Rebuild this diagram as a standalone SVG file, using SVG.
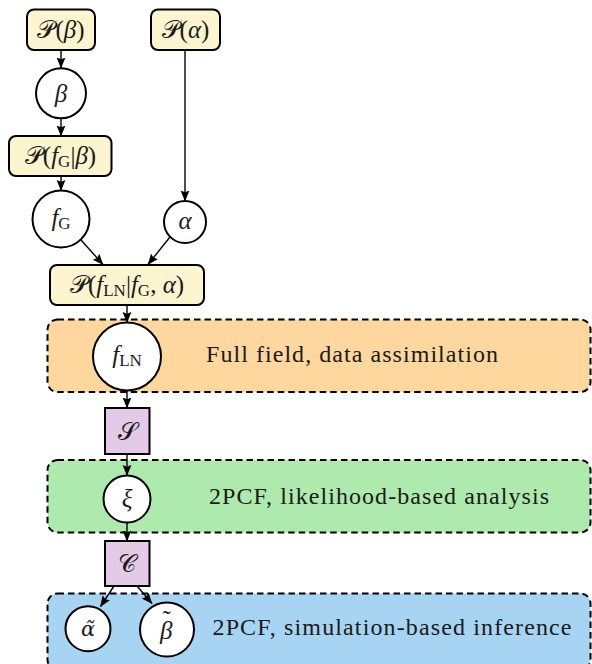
<svg xmlns="http://www.w3.org/2000/svg" width="592" height="664" viewBox="0 0 592 664">
<style>
.dist{fill:#fcf5cf;stroke:#000;stroke-width:2}
.var{fill:#fff;stroke:#000;stroke-width:2}
.op{fill:#e4cae6;stroke:#000;stroke-width:2}
.region{stroke:#000;stroke-width:2;stroke-dasharray:6.5 4}
.m{font-family:"Liberation Serif","DejaVu Serif",serif;font-size:25px;fill:#1a1a1a;text-anchor:middle}
.ms{font-family:"Liberation Serif","DejaVu Serif",serif;font-size:25px;fill:#1a1a1a}
.it{font-style:italic}
.sub{font-size:17px;font-style:normal}
.cal{font-family:"DejaVu Serif","DejaVu Sans","Liberation Serif",serif;font-style:normal;font-weight:normal}
.dv{font-family:"DejaVu Serif",serif;font-size:21px;font-style:italic}
.lab{font-family:"Liberation Serif",serif;font-size:24px;fill:#1a1a1a}
.c{stroke:#000;stroke-width:1.4;fill:none;marker-end:url(#ah)}
</style>
<defs>
<marker id="ah" markerUnits="userSpaceOnUse" markerWidth="11" markerHeight="11" viewBox="0 0 10 10" refX="9.5" refY="5" orient="auto">
<path d="M0,1 L10,5 L0,9 L1.5,5 Z" fill="#000"/>
</marker>
</defs>

<g id="region-full-field">
<rect class="region" x="47.5" y="319.5" width="543" height="72.5" rx="10" fill="#fed79e"/>
<text class="lab" x="206" y="362" textLength="292" lengthAdjust="spacing">Full field, data assimilation</text>
</g>
<g id="region-2pcf-likelihood">
<rect class="region" x="47.5" y="460" width="543" height="72.5" rx="10" fill="#aeeaae"/>
<text class="lab" x="209" y="503.5" textLength="340" lengthAdjust="spacing">2PCF, likelihood-based analysis</text>
</g>
<g id="region-2pcf-sbi">
<rect class="region" x="47.5" y="593.5" width="543" height="76" rx="10" fill="#a7d4f2"/>
<text class="lab" x="212.5" y="635" textLength="359" lengthAdjust="spacing">2PCF, simulation-based inference</text>
</g>

<g id="connectors">
<line class="c" x1="61" y1="50" x2="61" y2="68"/>
<line class="c" x1="61" y1="118" x2="61" y2="136"/>
<line class="c" x1="61" y1="176" x2="61" y2="190.5"/>
<line class="c" x1="185" y1="50" x2="185" y2="201"/>
<line class="c" x1="81" y1="240" x2="103" y2="264.5"/>
<line class="c" x1="170" y1="237" x2="148" y2="264.5"/>
<line class="c" x1="127" y1="305" x2="127" y2="322.5"/>
<line class="c" x1="127" y1="390.5" x2="127" y2="408"/>
<line class="c" x1="127" y1="454" x2="127" y2="475.5"/>
<line class="c" x1="127" y1="522.5" x2="127" y2="541"/>
<line class="c" x1="114" y1="586" x2="100.5" y2="606.5"/>
<line class="c" x1="137" y1="586" x2="152" y2="603.5"/>
</g>

<g id="P-beta">
<rect class="dist" x="27" y="9.5" width="68" height="40.5" rx="7"/>
<text class="m" x="61" y="37.5"><tspan class="cal">𝒫</tspan>(<tspan class="it">β</tspan>)</text>
</g>
<g id="P-alpha">
<rect class="dist" x="151" y="9.5" width="69" height="40.5" rx="7"/>
<text class="m" x="185.5" y="37.5"><tspan class="cal">𝒫</tspan>(<tspan class="it">α</tspan>)</text>
</g>
<g id="beta">
<circle class="var" cx="61" cy="93.3" r="25"/>
<text class="m it" x="61" y="101.5">β</text>
</g>
<g id="P-fG-beta">
<rect class="dist" x="9" y="136" width="102.5" height="40" rx="7"/>
<text class="m" x="60.5" y="163.5"><tspan class="cal">𝒫</tspan>(<tspan class="it">f</tspan><tspan class="sub" dy="3">G</tspan><tspan dy="-3">|</tspan><tspan class="it">β</tspan>)</text>
</g>
<g id="fG">
<circle class="var" cx="61" cy="219" r="28.5"/>
<text class="m" x="61" y="226"><tspan class="it">f</tspan><tspan class="sub" dy="3">G</tspan></text>
</g>
<g id="alpha">
<circle class="var" cx="185" cy="222" r="21"/>
<text class="m it" x="185" y="229">α</text>
</g>
<g id="P-fLN-fG-alpha">
<rect class="dist" x="50" y="265" width="154" height="40" rx="7"/>
<text class="m" x="127" y="292.5"><tspan class="cal">𝒫</tspan>(<tspan class="it">f</tspan><tspan class="sub" dy="3">LN</tspan><tspan dy="-3">|</tspan><tspan class="it">f</tspan><tspan class="sub" dy="3">G</tspan><tspan dy="-3">, </tspan><tspan class="it">α</tspan>)</text>
</g>
<g id="fLN">
<circle class="var" cx="127" cy="356.5" r="34"/>
<text class="m" x="127" y="363"><tspan class="it">f</tspan><tspan class="sub" dy="3">LN</tspan></text>
</g>
<g id="S">
<rect class="op" x="105" y="408" width="44.5" height="46"/>
<text class="m" x="127" y="439.5"><tspan class="cal">𝒮</tspan></text>
</g>
<g id="xi">
<circle class="var" cx="127" cy="499" r="23.5"/>
<text class="m it" x="127" y="506.5">ξ</text>
</g>
<g id="C">
<rect class="op" x="105" y="541" width="44.5" height="45"/>
<text class="m" x="127" y="571.5"><tspan class="cal">𝒞</tspan></text>
</g>
<g id="alpha-tilde">
<circle class="var" cx="88" cy="628.7" r="22.5"/>
<text class="m dv" x="88" y="635.5">α̃</text>
</g>
<g id="beta-tilde">
<circle class="var" cx="167" cy="629.5" r="27"/>
<text class="ms" x="160" y="638.5"><tspan class="it">β</tspan><tspan dx="-10" dy="-11">˜</tspan></text>
</g>
</svg>
